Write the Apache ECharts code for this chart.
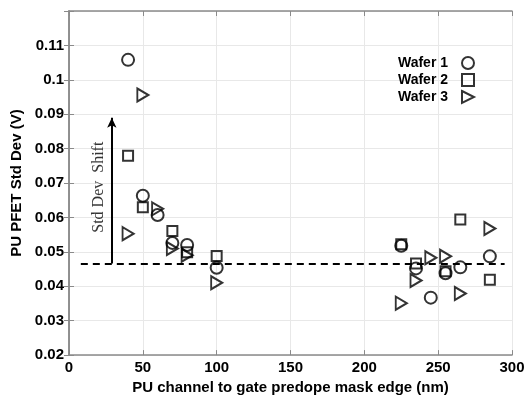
<!DOCTYPE html>
<html>
<head>
<meta charset="utf-8">
<script src="https://cdn.jsdelivr.net/npm/echarts@6/dist/echarts.min.js"></script>
<style>
  html, body { margin: 0; padding: 0; background: #fff; }
  #chart { width: 531px; height: 400px; }
</style>
</head>
<body>
<div id="chart"></div>
<script>
// Std dev of PU PFET vs. channel-to-predope-mask-edge distance, per wafer
const wafer1X = [40, 50, 60, 70, 80, 100, 225, 235, 245, 255, 265, 285];
const wafer1Y = [0.1058, 0.0663, 0.0607, 0.0526, 0.0520, 0.0454, 0.0518, 0.0452, 0.0367, 0.0438, 0.0455, 0.0487];

const wafer2X = [40, 50, 70, 80, 100, 225, 235, 255, 265, 285];
const wafer2Y = [0.0779, 0.0630, 0.0561, 0.0499, 0.0488, 0.0522, 0.0466, 0.0444, 0.0594, 0.0419];

const wafer3X = [40, 50, 60, 70, 80, 100, 225, 235, 245, 255, 265, 285];
const wafer3Y = [0.0553, 0.0956, 0.0625, 0.0510, 0.0490, 0.0410, 0.0351, 0.0417, 0.0483, 0.0487, 0.0379, 0.0568];

const seriesNames = ['Wafer 1', 'Wafer 2', 'Wafer 3'];

// Reference level and the shift annotation
const baselineY = 0.0466;
const baselineXRange = [8, 295];
const shiftX = 29;
const shiftTopY = 0.089;
const shiftLabel = 'Std Dev  Shift';
const shiftLabelPos = [20.5, 0.0688];

const xTicks = { min: 0, max: 300, interval: 50 };
const yTicks = { min: 0.02, max: 0.12, interval: 0.01 };

const zip = (xs, ys) => xs.map((x, i) => [x, ys[i]]);

const triangleRight = 'path://M0,0 L10,5 L0,10 Z';
const hollow = { color: 'rgba(0,0,0,0)', borderColor: '#000', borderWidth: 2 };

const boldFont = { fontFamily: 'Liberation Sans, Arial, sans-serif', fontWeight: 'bold', color: '#000' };

const chart = echarts.init(document.getElementById('chart'), null, { renderer: 'canvas' });

const axisBox = { show: true, lineStyle: { color: '#8a8a8a', width: 1.5 } };
const gridLines = { show: true, lineStyle: { color: '#e8e8e8', width: 1 } };
const inTicks = { show: true, inside: true, length: 5, lineStyle: { color: '#8a8a8a' } };

chart.setOption({
  animation: false,
  backgroundColor: '#fff',
  grid: { left: 69, right: 19, top: 11, bottom: 38, containLabel: false },
  legend: {
    orient: 'vertical',
    align: 'right',
    right: 51,
    top: 51,
    itemWidth: 12,
    itemHeight: 12,
    itemGap: 3,
    data: seriesNames,
    textStyle: Object.assign({ fontSize: 14, padding: [0, 9, 0, 0] }, boldFont)
  },
  xAxis: [
    {
      type: 'value', min: xTicks.min, max: xTicks.max, interval: xTicks.interval,
      name: 'PU channel to gate predope mask edge (nm)',
      nameLocation: 'middle', nameGap: 23,
      nameTextStyle: Object.assign({ fontSize: 15 }, boldFont),
      axisLine: axisBox,
      axisTick: inTicks,
      axisLabel: Object.assign({ fontSize: 15, margin: 5 }, boldFont),
      splitLine: gridLines
    },
    {
      type: 'value', position: 'top', min: xTicks.min, max: xTicks.max, interval: xTicks.interval,
      axisLine: axisBox, axisTick: inTicks,
      axisLabel: { show: false }, splitLine: { show: false }
    }
  ],
  yAxis: [
    {
      type: 'value', min: yTicks.min, max: yTicks.max, interval: yTicks.interval,
      name: 'PU PFET Std Dev (V)',
      nameLocation: 'middle', nameGap: 44,
      nameTextStyle: Object.assign({ fontSize: 15 }, boldFont),
      axisLine: axisBox,
      axisTick: inTicks,
      axisLabel: Object.assign({
        fontSize: 15, margin: 5,
        formatter: v => (v > yTicks.max - yTicks.interval / 2 ? '' : String(+v.toFixed(2)))
      }, boldFont),
      splitLine: gridLines
    },
    {
      type: 'value', position: 'right', min: yTicks.min, max: yTicks.max, interval: yTicks.interval,
      axisLine: axisBox, axisTick: inTicks,
      axisLabel: { show: false }, splitLine: { show: false }
    }
  ],
  series: [
    {
      name: seriesNames[0], type: 'scatter', symbol: 'circle', symbolSize: 12,
      itemStyle: hollow, data: zip(wafer1X, wafer1Y), z: 5
    },
    {
      name: seriesNames[1], type: 'scatter', symbol: 'rect', symbolSize: 10,
      itemStyle: hollow, data: zip(wafer2X, wafer2Y), z: 5
    },
    {
      name: seriesNames[2], type: 'scatter', symbol: triangleRight, symbolSize: [11, 13],
      itemStyle: hollow, data: zip(wafer3X, wafer3Y), z: 5
    },
    {
      // baseline, shift arrow and its caption
      name: 'annotation', type: 'scatter', symbol: 'circle', symbolSize: 1,
      itemStyle: { color: 'rgba(0,0,0,0)' },
      data: [shiftLabelPos],
      label: {
        show: true, position: 'inside', rotate: 90, formatter: shiftLabel,
        fontFamily: 'Liberation Serif, Times New Roman, serif', fontSize: 16, color: '#000'
      },
      silent: true, z: 4,
      markLine: {
        silent: true, animation: false,
        label: { show: false },
        data: [
          [
            { coord: [baselineXRange[0], baselineY], symbol: 'none',
              lineStyle: { color: '#000', width: 2, type: [7, 5] } },
            { coord: [baselineXRange[1], baselineY], symbol: 'none' }
          ],
          [
            { coord: [shiftX, baselineY], symbol: 'none',
              lineStyle: { color: '#000', width: 2, type: 'solid' } },
            { coord: [shiftX, shiftTopY], symbol: 'arrow', symbolSize: [7, 10] }
          ]
        ]
      }
    }
  ]
});
</script>
</body>
</html>
